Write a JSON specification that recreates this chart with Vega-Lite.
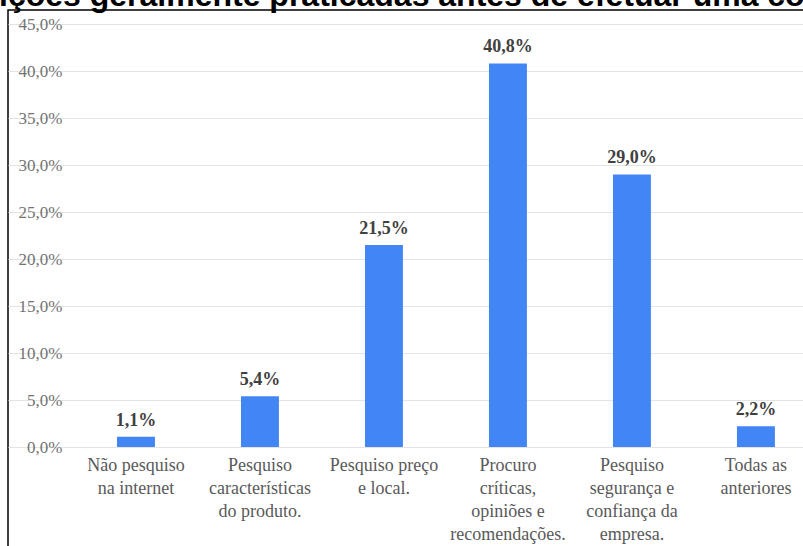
{
  "$schema": "https://vega.github.io/schema/vega-lite/v6.json",
  "autosize": "none",
  "width": 800,
  "height": 540,
  "padding": {"left": 8, "top": 10, "right": 0, "bottom": 0},
  "background": "white",
  "title": {
    "text": "ições geralmente praticadas antes de efetuar uma co",
    "anchor": "start",
    "frame": "group",
    "font": "Liberation Sans",
    "fontSize": 32,
    "fontWeight": "bold",
    "color": "#000000",
    "baseline": "alphabetic",
    "offset": 3,
    "dx": -9,
    "dy": 31
  },
  "config": {
    "locale": {"number": {"decimal": ",", "thousands": ".", "grouping": [3], "currency": ["R$", ""]}},
    "view": {"stroke": "#000000", "strokeWidth": 1.5}
  },
  "data": {
    "values": [
      {"acao": "Não pesquiso na internet", "pct": 0.011},
      {"acao": "Pesquiso características do produto.", "pct": 0.054},
      {"acao": "Pesquiso preço e local.", "pct": 0.215},
      {"acao": "Procuro críticas, opiniões e recomendações.", "pct": 0.408},
      {"acao": "Pesquiso segurança e confiança da empresa.", "pct": 0.29},
      {"acao": "Todas as anteriores", "pct": 0.022}
    ]
  },
  "encoding": {
    "x": {
      "field": "acao",
      "type": "nominal",
      "sort": null,
      "scale": {"paddingInner": 0.694, "paddingOuter": 0.573, "align": 0.767},
      "axis": {
        "orient": "bottom",
        "offset": -103,
        "title": null,
        "domain": false,
        "ticks": false,
        "grid": false,
        "labelAngle": 0,
        "labelPadding": 9,
        "labelFont": "Liberation Serif",
        "labelFontSize": 18,
        "labelColor": "#595959",
        "labelLineHeight": 23,
        "labelLimit": 0,
        "labelExpr": "{'Não pesquiso na internet': ['Não pesquiso','na internet'], 'Pesquiso características do produto.': ['Pesquiso','características','do produto.'], 'Pesquiso preço e local.': ['Pesquiso preço','e local.'], 'Procuro críticas, opiniões e recomendações.': ['Procuro','críticas,','opiniões e','recomendações.'], 'Pesquiso segurança e confiança da empresa.': ['Pesquiso','segurança e','confiança da','empresa.'], 'Todas as anteriores': ['Todas as','anteriores']}[datum.value]"
      }
    },
    "y": {
      "field": "pct",
      "type": "quantitative",
      "scale": {"domain": [-0.10957, 0.4649], "nice": false},
      "axis": {
        "orient": "left",
        "offset": -58,
        "title": null,
        "values": [0, 0.05, 0.1, 0.15, 0.2, 0.25, 0.3, 0.35, 0.4, 0.45],
        "format": ".1%",
        "domain": false,
        "ticks": false,
        "grid": true,
        "gridColor": "#e4e4e4",
        "gridWidth": 1,
        "labelPadding": 4,
        "labelFont": "Liberation Serif",
        "labelFontSize": 17,
        "labelColor": "#737373"
      }
    }
  },
  "layer": [
    {"mark": {"type": "bar", "color": "#4285F4"}},
    {
      "mark": {
        "type": "text",
        "baseline": "alphabetic",
        "dy": -11,
        "font": "Liberation Serif",
        "fontSize": 18,
        "fontWeight": "bold",
        "color": "#404040"
      },
      "encoding": {"text": {"field": "pct", "type": "quantitative", "format": ".1%"}}
    }
  ]
}
